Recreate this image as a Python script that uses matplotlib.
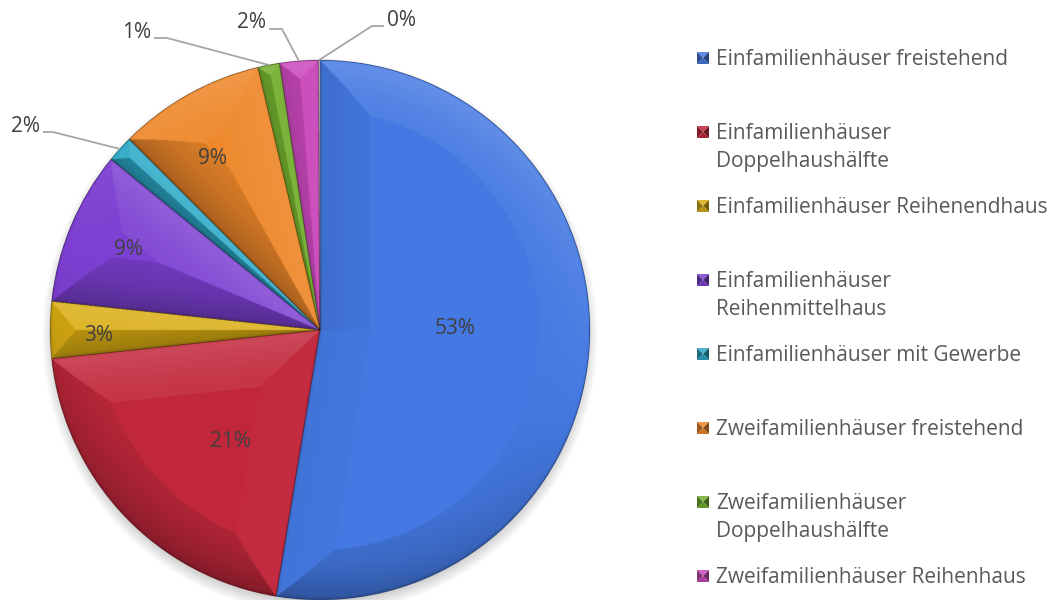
"""
Anteile der Gebäudetypen als Kreisdiagramm mit Facetten-Schattierung.
Speichert out.png.
"""

import numpy as np
import matplotlib
matplotlib.use("Agg")   # kein GUI — nur Datei
import matplotlib.pyplot as plt
from matplotlib.patches import Circle, Polygon, Wedge
from matplotlib.colors import to_rgb

plt.rcParams["font.family"] = ["Open Sans", "DejaVu Sans"]

W_PX, H_PX = 1051, 600

# Gebäudetypen und Anteile (%)
categories = [
    "Einfamilienhäuser freistehend",
    "Einfamilienhäuser\nDoppelhaushälfte",
    "Einfamilienhäuser Reihenendhaus",
    "Einfamilienhäuser\nReihenmittelhaus",
    "Einfamilienhäuser mit Gewerbe",
    "Zweifamilienhäuser freistehend",
    "Zweifamilienhäuser\nDoppelhaushälfte",
    "Zweifamilienhäuser Reihenhaus",
    "Sonstige",
]
shares = [52.6, 20.7, 3.4, 9.2, 1.6, 8.8, 1.3, 2.3, 0.1]
colors = ["#4479E2", "#C2283C", "#DAAD12", "#7D40D2", "#2BA8C6",
          "#EE882B", "#72AE2E", "#C948BA", "#E4E4E4"]
N_LEGEND = 8   # letzte Kategorie steht nicht in der Legende

# Label-Lage: Abstand vom Mittelpunkt (Anteil am Radius) und Winkelversatz (Grad);
# None = Label außen mit Führungslinie
label_radius = [0.50, 0.53, 0.82, 0.77, None, 0.75, None, None, None]
label_shift = [5.5, 7.8, 1.3, 0.0, 0, 2.9, 0, 0, 0]
# Außen-Labels: Knick und Ende der Führungslinie (Pixel, y von oben)
leaders = {
    4: ((53, 132), (43, 132)),
    6: ((167, 38), (154, 38)),
    7: ((282, 29), (269, 29)),
    8: ((372, 26), (384, 26)),
}

TEXT_COLOR = "#595959"
LABEL_COLOR = "#404040"
LINE_COLOR = "#A6A6A6"
FS_LABEL = 15
FS_LEGEND = 15

CX, CY, R = 320, H_PX - 330, 270


def Y(y_top):
    """Pixel-y von oben -> Achsen-y von unten."""
    return H_PX - y_top


def shade_rgb(rgb, s, lift=0.55):
    rgb = np.asarray(rgb, dtype=float)
    if np.ndim(s) == 0:
        return rgb + (1 - rgb) * s * lift if s > 0 else rgb * (1 + s)
    s = s[..., None]
    return np.where(s > 0, rgb + (1 - rgb) * s * lift, rgb * (1 + s))


def bevel_image(wedges, colors, cx, cy, r, width=50, strength=0.32, ss=2):
    n = int(2 * r * ss)
    xs = np.linspace(cx - r, cx + r, n)
    ys = np.linspace(cy - r, cy + r, n)
    X, Yg = np.meshgrid(xs, ys)
    dx, dy = X - cx, Yg - cy
    rho = np.hypot(dx, dy)
    phi = np.degrees(np.arctan2(dy, dx)) % 360
    light = np.array([0.3, 0.95])
    light /= np.linalg.norm(light)

    img = np.zeros((n, n, 4))
    for w, c in zip(wedges, colors):
        t1, t2 = w.theta1, w.theta2
        span = t2 - t1
        a1 = (phi - t1) % 360
        inside = (a1 <= span) & (rho <= r)
        a2 = span - a1
        d_arc = r - rho
        d1 = np.where(a1 < 90, rho * np.sin(np.radians(a1)), rho)
        d2 = np.where(a2 < 90, rho * np.sin(np.radians(a2)), rho)
        d = np.stack([d_arc, d1, d2])
        k = np.argmin(d, axis=0)
        dmin = np.min(d, axis=0)

        # Außennormalen der drei Kanten, gegen das Licht projiziert
        p = np.radians(phi)
        dot_arc = np.cos(p) * light[0] + np.sin(p) * light[1]
        r1, r2 = np.radians(t1), np.radians(t2)
        dot1 = np.sin(r1) * light[0] - np.cos(r1) * light[1]
        dot2 = -np.sin(r2) * light[0] + np.cos(r2) * light[1]
        dot = np.choose(k, [dot_arc, np.full_like(dot_arc, dot1), np.full_like(dot_arc, dot2)])

        fall = np.clip(1 - dmin / width, 0, 1)
        prof = np.where(fall > 0, 0.35 + 0.65 * fall ** 1.5, 0)
        # Kante außen leicht abdunkeln
        rim = -0.12 * np.clip(1 - dmin / 3.0, 0, 1)
        s = strength * dot * prof + rim
        rgb = shade_rgb(to_rgb(c), s)
        img[inside, :3] = rgb[inside]
        img[inside, 3] = 1
    return img, [cx - r, cx + r, cy - r, cy + r]


def shadow_image(cx, cy, r, off=6, blur=9, pad=30):
    n = int(2 * (r + pad))
    xs = np.linspace(cx - r - pad, cx + r + pad, n)
    ys = np.linspace(cy - r - pad, cy + r + pad, n)
    X, Yg = np.meshgrid(xs, ys)
    rho = np.hypot(X - cx, Yg - (cy - off))
    img = np.zeros((n, n, 4))
    img[..., 3] = 0.25 * np.clip((r + blur - rho) / (2 * blur), 0, 1)
    return img, [cx - r - pad, cx + r + pad, cy - r - pad, cy + r + pad]


fig = plt.figure(figsize=(W_PX / 100, H_PX / 100), dpi=100)
ax = fig.add_axes([0, 0, 1, 1])

wedges, _ = ax.pie(shares, colors=colors, startangle=90, counterclock=False,
                   center=(CX, CY), radius=R, frame=True,
                   wedgeprops=dict(linewidth=0, zorder=2))
ax.set_xlim(0, W_PX)
ax.set_ylim(0, H_PX)
ax.set_aspect("equal")
ax.axis("off")

# Schatten unter dem Kreis
sh, sh_ext = shadow_image(CX, CY, R)
ax.imshow(sh, extent=sh_ext, origin="lower", zorder=1, interpolation="bilinear")

# Facetten-Schattierung über den Segmenten
img, ext = bevel_image(wedges, colors, CX, CY, R)
im = ax.imshow(img, extent=ext, origin="lower", zorder=3, interpolation="bilinear")
im.set_clip_path(Circle((CX, CY), R, transform=ax.transData))

# feine Trennlinien
for w in wedges:
    ax.add_patch(Wedge((CX, CY), R, w.theta1, w.theta2, fill=False,
                       ec=(0, 0, 0, 0.22), lw=0.6, zorder=4))

# Datenbeschriftungen
for i, (w, v) in enumerate(zip(wedges, shares)):
    mid = np.radians((w.theta1 + w.theta2) / 2 + label_shift[i])
    txt = f"{v:.0f}%"
    if label_radius[i] is not None:
        rr = label_radius[i] * R
        ax.text(CX + rr * np.cos(mid), CY + rr * np.sin(mid), txt,
                ha="center", va="center", fontsize=FS_LABEL, color=LABEL_COLOR, zorder=5)
    else:
        (kx, ky), (ex, ey) = leaders[i]
        sx, sy = CX + R * np.cos(mid), CY + R * np.sin(mid)
        ax.plot([sx, kx, ex], [sy, Y(ky), Y(ey)], color=LINE_COLOR, lw=1.3,
                zorder=5, solid_capstyle="butt")
        left = ex < kx
        ax.text(ex + (-3 if left else 3), Y(ey) + 6, txt,
                ha="right" if left else "left", va="center",
                fontsize=FS_LABEL, color=LABEL_COLOR, zorder=5)

# Legende mit Pyramiden-Markern
LEG_X, LEG_Y0, LEG_STEP, LINE_STEP, MK = 703, 58, 74, 28, 12
for i in range(N_LEGEND):
    yc = Y(LEG_Y0 + i * LEG_STEP)
    base = to_rgb(colors[i])
    x0, x1 = LEG_X - MK / 2, LEG_X + MK / 2
    y0, y1 = yc - MK / 2, yc + MK / 2
    m = (LEG_X, yc)
    faces = [
        ([(x0, y1), (x1, y1), m], 0.25),
        ([(x1, y1), (x1, y0), m], -0.45),
        ([(x1, y0), (x0, y0), m], -0.15),
        ([(x0, y0), (x0, y1), m], -0.35),
    ]
    for pts, s in faces:
        ax.add_patch(Polygon(pts, closed=True, fc=shade_rgb(base, s), ec="none", zorder=5))
    for j, line in enumerate(categories[i].split("\n")):
        ax.text(x1 + 7, yc - 7 - j * LINE_STEP, line, ha="left", va="baseline",
                fontsize=FS_LEGEND, color=TEXT_COLOR, zorder=5)

fig.savefig("out.png", dpi=100)
